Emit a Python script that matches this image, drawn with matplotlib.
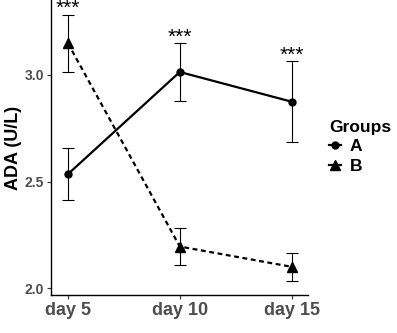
import matplotlib
matplotlib.use('Agg')
from matplotlib import pyplot as plt
from matplotlib.lines import Line2D

plt.rcParams['font.family'] = ['Liberation Sans', 'DejaVu Sans']

days = ['day 5', 'day 10', 'day 15']
pos = [1, 2, 3]

# group means and error half-widths
a_mean = [2.535, 3.013, 2.874]
a_err = [0.12, 0.135, 0.19]
b_mean = [3.147, 2.196, 2.101]
b_err = [0.135, 0.085, 0.065]

stars = ['***', '***', '***']

y_ticks = [2.0, 2.5, 3.0]
y_labels = ['2.0', '2.5', '3.0']

fig = plt.figure(figsize=(3.97, 3.33), dpi=100)
ax = fig.add_axes([51/397, 38/333, 257/397, 295/333])

ax.errorbar(pos, a_mean, yerr=a_err, fmt='none', ecolor='black',
            elinewidth=0.8, capsize=4, capthick=0.8, zorder=2)
ax.errorbar(pos, b_mean, yerr=b_err, fmt='none', ecolor='black',
            elinewidth=0.8, capsize=4, capthick=0.8, zorder=2)
ax.plot(pos, a_mean, color='black', lw=1.6, marker='o', markersize=5, zorder=3)
ax.plot(pos, b_mean, color='black', lw=1.6, ls=(0, (2.2, 1.6)),
        marker='^', markersize=6.5, zorder=3)

# significance marks above the taller error bar
for i in range(3):
    top = max(a_mean[i] + a_err[i], b_mean[i] + b_err[i])
    ax.annotate(stars[i], xy=(pos[i], top), xytext=(0, 0.5),
                textcoords='offset points', ha='center', va='baseline',
                fontsize=15)

ax.set_xlim(0.848, 3.147)
ax.set_ylim(1.969, 3.35)
ax.set_xticks(pos)
ax.set_xticklabels(days, fontsize=13, fontweight='bold', color='#4D4D4D')
ax.set_yticks(y_ticks)
ax.set_yticklabels(y_labels, fontsize=10, fontweight='bold', color='#4D4D4D')
ax.tick_params(length=3, width=0.8, color='#333333', pad=2)
ax.set_ylabel('ADA (U/L)', fontsize=13, fontweight='bold', labelpad=2)

ax.spines['top'].set_visible(False)
ax.spines['right'].set_visible(False)
ax.spines['left'].set_linewidth(1.0)
ax.spines['bottom'].set_linewidth(1.0)

handles = [Line2D([], [], color='black', lw=1.6, marker='o', markersize=5),
           Line2D([], [], color='black', lw=1.6, marker='^', markersize=6.5)]
leg = fig.legend(handles, ['A', 'B'], title='Groups', loc='upper left',
                 bbox_to_anchor=(329/397, 1 - 120/333), frameon=False,
                 fontsize=12.5, title_fontproperties={'weight': 'bold', 'size': 12.5},
                 handlelength=0.7, handletextpad=0.5, labelspacing=0.25,
                 borderpad=0, borderaxespad=0)
leg._legend_box.align = 'left'
for t in leg.get_texts():
    t.set_fontweight('bold')

fig.savefig('out.png', dpi=100)
